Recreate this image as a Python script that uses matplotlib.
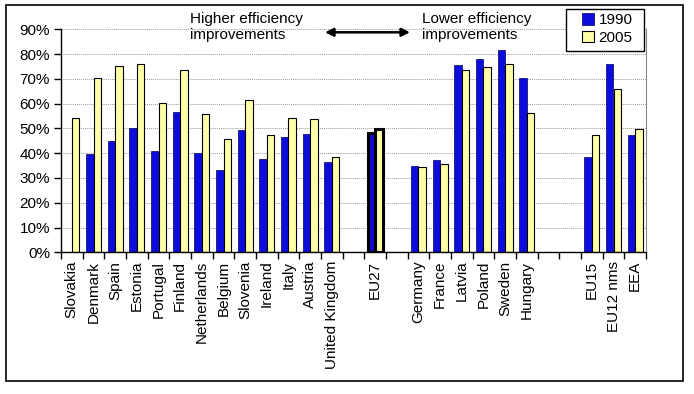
import numpy as np
import matplotlib.pyplot as plt
from matplotlib.patches import Rectangle

plt.rcParams['font.family'] = ['Liberation Sans', 'DejaVu Sans']
plt.rcParams['font.size'] = 11

# chart data (blank entries are gaps between groups)
countries = ['Slovakia', 'Denmark', 'Spain', 'Estonia', 'Portugal', 'Finland',
             'Netherlands', 'Belgium', 'Slovenia', 'Ireland', 'Italy', 'Austria',
             'United Kingdom', '', 'EU27', '', 'Germany', 'France', 'Latvia',
             'Poland', 'Sweden', 'Hungary', '', '', 'EU15', 'EU12 nms', 'EEA']
v1990 = [np.nan, 39.6, 44.8, 50.1, 40.8, 56.5, 40.0, 33.2, 49.3, 37.6, 46.4, 47.6,
         36.3, np.nan, 48.0, np.nan, 34.9, 37.1, 75.5, 77.9, 81.7, 70.3,
         np.nan, np.nan, 38.4, 76.0, 47.4]
v2005 = [54.2, 70.3, 75.1, 75.9, 60.2, 73.5, 55.7, 45.6, 61.4, 47.2, 54.2, 53.8,
         38.3, np.nan, 49.7, np.nan, 34.3, 35.5, 73.5, 74.7, 75.9, 56.1,
         np.nan, np.nan, 47.4, 65.8, 49.7]
series_names = ['1990', '2005']

blue = '#0c0cdc'
yellow = '#ffffa8'

fig = plt.figure(figsize=(6.94, 3.94), dpi=100)
ax = fig.add_axes([61/694, 1-252.3/394, 585/694, 223/394])

x = np.arange(len(countries))
w = 0.34
a = np.array(v1990) / 100
b = np.array(v2005) / 100
bars1 = ax.bar(x - w/2, a, w, color=blue, edgecolor='#000060', linewidth=0.5, label=series_names[0])
bars2 = ax.bar(x + w/2, b, w, color=yellow, edgecolor='black', linewidth=0.8, label=series_names[1])

# EU27 highlighted with a thick outline
eu = countries.index('EU27')
for bb in (bars1[eu], bars2[eu]):
    bb.set_edgecolor('black')
    bb.set_linewidth(2.2)

ax.set_xlim(-0.5, len(countries) - 0.5)
ax.set_ylim(0, 0.9)
ax.set_yticks(np.arange(0, 0.91, 0.1))
ax.set_yticklabels([f'{int(round(t*100))}%' for t in np.arange(0, 0.91, 0.1)])
ax.yaxis.grid(True, color='#999999', linestyle=(0, (1, 1)), linewidth=0.7)
ax.set_axisbelow(True)

ax.set_xticks(x)
ax.set_xticklabels(countries, rotation=90)
ax.set_xticks(np.arange(-0.5, len(countries)), minor=True)
ax.tick_params(axis='x', which='major', length=0, pad=6)
ax.tick_params(axis='x', which='minor', length=5, width=1, color='black')
ax.tick_params(axis='y', length=5, width=1, pad=3)

ax.spines['top'].set_visible(False)
ax.spines['right'].set_color('#888888')
ax.spines['right'].set_linewidth(0.8)
ax.spines['left'].set_linewidth(1)
ax.spines['bottom'].set_linewidth(1)

# annotations
fig.text(190/694, 1-12/394, 'Higher efficiency\nimprovements', va='top', ha='left',
         linespacing=1.15)
fig.text(422/694, 1-12/394, 'Lower efficiency\nimprovements', va='top', ha='left',
         linespacing=1.15)
ax.annotate('', xy=(325/694, 1-32.3/394), xytext=(410/694, 1-32.3/394),
            xycoords='figure fraction', textcoords='figure fraction',
            arrowprops=dict(arrowstyle='<|-|>', color='black', lw=1.8,
                            mutation_scale=12, shrinkA=0, shrinkB=0))

# legend box drawn separately so it can be wider than the entries
fig.patches.append(Rectangle((566/694, 1-51/394), 78/694, 42/394,
                             transform=fig.transFigure, facecolor='white',
                             edgecolor='black', linewidth=1, zorder=1))
leg = fig.legend(loc='center', bbox_to_anchor=(607/694, 1-29/394),
                 frameon=False, handlelength=0.8, handleheight=0.8,
                 handletextpad=0.3, borderpad=0, labelspacing=0.2, fontsize=11)

# outer chart border
fig.patches.append(Rectangle((6/694, 1-381/394), 677/694, 376/394,
                             transform=fig.transFigure, fill=False,
                             edgecolor='black', linewidth=1.2))

fig.savefig('out.png', dpi=100)
